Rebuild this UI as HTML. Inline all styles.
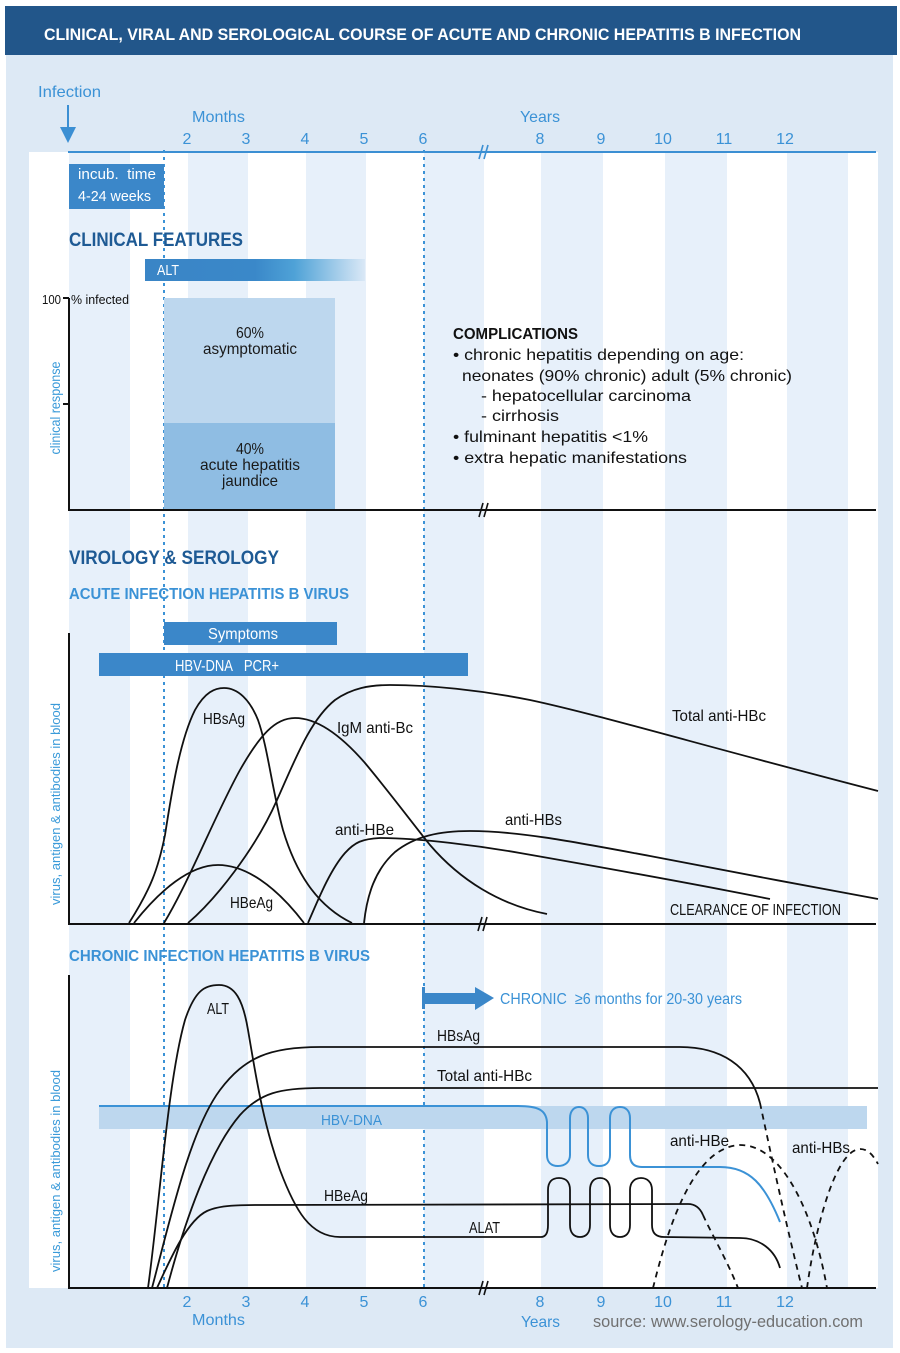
<!DOCTYPE html>
<html><head><meta charset="utf-8"><style>
html,body{margin:0;padding:0;background:#fff;}
svg{display:block;}
text{font-family:"Liberation Sans",sans-serif;}
</style></head><body>
<svg width="900" height="1353" viewBox="0 0 900 1353" xmlns="http://www.w3.org/2000/svg">
<defs>
<linearGradient id="altg" x1="0" x2="1" y1="0" y2="0">
<stop offset="0" stop-color="#3a85c6"/>
<stop offset="0.5" stop-color="#3a88c9"/>
<stop offset="0.68" stop-color="#4fa2d7"/>
<stop offset="1" stop-color="#dae8f6"/>
</linearGradient>
</defs>
<rect width="900" height="1353" fill="#fff"/>
<rect x="6" y="55" width="887" height="1293" fill="#dde9f5"/>
<rect x="5" y="6" width="892" height="49" fill="#22568a"/>
<text x="44" y="40" font-size="17" font-weight="bold" fill="#fff" textLength="757" lengthAdjust="spacingAndGlyphs">CLINICAL, VIRAL AND SEROLOGICAL COURSE OF ACUTE AND CHRONIC HEPATITIS B INFECTION</text>

<!-- chart white area + stripes -->
<rect x="29" y="152" width="849" height="1136" fill="#fff"/>
<g fill="#e7f0fa">
<rect x="69" y="152" width="61" height="1136"/>
<rect x="188" y="152" width="60" height="1136"/>
<rect x="306" y="152" width="60" height="1136"/>
<rect x="424" y="152" width="60" height="1136"/>
<rect x="541" y="152" width="62" height="1136"/>
<rect x="665" y="152" width="62" height="1136"/>
<rect x="787" y="152" width="61" height="1136"/>
</g>

<!-- top axis -->
<g fill="#3b92d6">
<text x="38" y="97" font-size="16" textLength="63" lengthAdjust="spacingAndGlyphs">Infection</text>
<text x="192" y="122" font-size="16" textLength="53" lengthAdjust="spacingAndGlyphs">Months</text>
<text x="520" y="122" font-size="16" textLength="40" lengthAdjust="spacingAndGlyphs">Years</text>
<g font-size="16" text-anchor="middle">
<text x="187" y="144">2</text><text x="246" y="144">3</text><text x="305" y="144">4</text><text x="364" y="144">5</text><text x="423" y="144">6</text>
<text x="540" y="144">8</text><text x="601" y="144">9</text><text x="663" y="144">10</text><text x="724" y="144">11</text><text x="785" y="144">12</text>
</g>
</g>
<line x1="68" y1="105" x2="68" y2="132" stroke="#3b8fd3" stroke-width="2"/>
<polygon points="60,127 76,127 68,143" fill="#3b8fd3"/>
<line x1="68" y1="152" x2="876" y2="152" stroke="#3b8fd3" stroke-width="2"/>
<g stroke="#3b8fd3" stroke-width="1.6"><line x1="479" y1="159" x2="483" y2="145"/><line x1="484" y1="159" x2="488" y2="145"/></g>

<!-- dashed verticals -->
<g stroke="#3b92d6" stroke-width="2" stroke-dasharray="3,4">
<line x1="164" y1="150" x2="164" y2="1288"/>
<line x1="424" y1="150" x2="424" y2="1288"/>
</g>

<!-- incubation -->
<rect x="69" y="164" width="95" height="45" fill="#3b87c9"/>
<text x="78" y="179" font-size="15" fill="#fff" textLength="78" lengthAdjust="spacingAndGlyphs">incub.&#160; time</text>
<text x="78" y="201" font-size="15" fill="#fff" textLength="73" lengthAdjust="spacingAndGlyphs">4-24 weeks</text>

<!-- clinical features -->
<text x="69" y="246" font-size="19" font-weight="bold" fill="#1e5a94" textLength="174" lengthAdjust="spacingAndGlyphs">CLINICAL FEATURES</text>
<rect x="145" y="259" width="220" height="22" fill="url(#altg)"/>
<text x="157" y="275" font-size="15" fill="#fff" textLength="22" lengthAdjust="spacingAndGlyphs">ALT</text>
<rect x="164" y="298" width="171" height="125" fill="#bdd7ee"/>
<rect x="164" y="423" width="171" height="87" fill="#8fbde3"/>
<g fill="#1a1a1a" font-size="16" text-anchor="middle">
<text x="250" y="338" textLength="28" lengthAdjust="spacingAndGlyphs">60%</text>
<text x="250" y="354" textLength="94" lengthAdjust="spacingAndGlyphs">asymptomatic</text>
<text x="250" y="454" textLength="28" lengthAdjust="spacingAndGlyphs">40%</text>
<text x="250" y="470" textLength="100" lengthAdjust="spacingAndGlyphs">acute hepatitis</text>
<text x="250" y="486" textLength="56" lengthAdjust="spacingAndGlyphs">jaundice</text>
</g>
<text x="42" y="304" font-size="13" fill="#111" textLength="19" lengthAdjust="spacingAndGlyphs">100</text>
<text x="71" y="304" font-size="13" fill="#111" textLength="58" lengthAdjust="spacingAndGlyphs">% infected</text>
<text transform="translate(60,408) rotate(-90)" font-size="14" fill="#3a9ad9" text-anchor="middle" textLength="93" lengthAdjust="spacingAndGlyphs">clinical response</text>
<g stroke="#111" stroke-width="2" fill="none">
<polyline points="69,298 69,510 876,510"/>
<line x1="63" y1="298" x2="69" y2="298"/>
<line x1="63" y1="404" x2="69" y2="404"/>
</g>
<g stroke="#111" stroke-width="1.6"><line x1="479" y1="517" x2="483" y2="503"/><line x1="484" y1="517" x2="488" y2="503"/></g>
<g fill="#111" font-size="16">
<text x="453" y="339" font-weight="bold" textLength="125" lengthAdjust="spacingAndGlyphs">COMPLICATIONS</text>
<text x="453" y="360" textLength="291" lengthAdjust="spacingAndGlyphs">• chronic hepatitis depending on age:</text>
<text x="462" y="381" textLength="330" lengthAdjust="spacingAndGlyphs">neonates (90% chronic) adult (5% chronic)</text>
<text x="481" y="401" textLength="210" lengthAdjust="spacingAndGlyphs">- hepatocellular carcinoma</text>
<text x="481" y="421" textLength="78" lengthAdjust="spacingAndGlyphs">- cirrhosis</text>
<text x="453" y="442" textLength="195" lengthAdjust="spacingAndGlyphs">• fulminant hepatitis &lt;1%</text>
<text x="453" y="463" textLength="234" lengthAdjust="spacingAndGlyphs">• extra hepatic manifestations</text>
</g>

<!-- virology acute -->
<text x="69" y="564" font-size="19" font-weight="bold" fill="#1e5a94" textLength="210" lengthAdjust="spacingAndGlyphs">VIROLOGY &amp; SEROLOGY</text>
<text x="69" y="599" font-size="16" font-weight="bold" fill="#3b92d6" textLength="280" lengthAdjust="spacingAndGlyphs">ACUTE INFECTION HEPATITIS B VIRUS</text>
<rect x="164" y="622" width="173" height="23" fill="#3b87c9"/>
<text x="243" y="639" font-size="16" fill="#fff" text-anchor="middle" textLength="70" lengthAdjust="spacingAndGlyphs">Symptoms</text>
<rect x="99" y="653" width="369" height="23" fill="#3b87c9"/>
<text x="175" y="671" font-size="16" fill="#fff" textLength="104" lengthAdjust="spacingAndGlyphs">HBV-DNA&#160;&#160; PCR+</text>
<text transform="translate(60,804) rotate(-90)" font-size="13" fill="#3a9ad9" text-anchor="middle" textLength="202" lengthAdjust="spacingAndGlyphs">virus, antigen &amp; antibodies in blood</text>
<g stroke="#111" stroke-width="2" fill="none">
<polyline points="69,633 69,924 876,924"/>
</g>
<g stroke="#111" stroke-width="1.6"><line x1="478" y1="931" x2="482" y2="917"/><line x1="483" y1="931" x2="487" y2="917"/></g>
<g stroke="#111" stroke-width="1.8" fill="none">
<path d="M129,923 C150,890 158,870 165,835 C172,790 180,740 195,710 C205,692 215,688 224,688 C238,688 250,700 258,720 C268,748 272,790 283,830 C295,870 315,905 352,923"/>
<path d="M134,923 C160,890 190,865 218,865 C245,865 275,885 304,923"/>
<path d="M164,923 C190,880 215,815 240,770 C260,735 275,718 295,718 C320,718 345,740 365,763 C390,793 410,820 430,845 C460,880 500,905 547,914"/>
<path d="M188,923 C215,900 255,850 277,800 C295,760 310,720 335,700 C352,688 370,685 390,685 C430,685 480,690 530,700 C600,715 700,745 878,791"/>
<path d="M308,923 C318,900 330,870 345,853 C355,842 362,839 380,838 C420,838 480,846 520,853 C600,867 700,885 770,899"/>
<path d="M364,923 C367,895 375,870 395,852 C415,836 440,831 470,831 C520,831 580,843 650,856 C730,871 800,885 878,899"/>
</g>
<g fill="#111" font-size="16">
<text x="203" y="724" textLength="42" lengthAdjust="spacingAndGlyphs">HBsAg</text>
<text x="230" y="908" textLength="43" lengthAdjust="spacingAndGlyphs">HBeAg</text>
<text x="337" y="733" textLength="76" lengthAdjust="spacingAndGlyphs">IgM anti-Bc</text>
<text x="672" y="721" textLength="94" lengthAdjust="spacingAndGlyphs">Total anti-HBc</text>
<text x="335" y="835" textLength="59" lengthAdjust="spacingAndGlyphs">anti-HBe</text>
<text x="505" y="825" textLength="57" lengthAdjust="spacingAndGlyphs">anti-HBs</text>
<text x="670" y="915" textLength="171" lengthAdjust="spacingAndGlyphs">CLEARANCE OF INFECTION</text>
</g>

<!-- chronic -->
<text x="69" y="961" font-size="16" font-weight="bold" fill="#3b92d6" textLength="301" lengthAdjust="spacingAndGlyphs">CHRONIC INFECTION HEPATITIS B VIRUS</text>
<rect x="422" y="987" width="3" height="22" fill="#3b87c9"/>
<rect x="424" y="993" width="52" height="11" fill="#3b87c9"/>
<polygon points="475,987 475,1010 494,998" fill="#3b87c9"/>
<text x="500" y="1004" font-size="16" fill="#3b92d6" textLength="242" lengthAdjust="spacingAndGlyphs">CHRONIC&#160; ≥6 months for 20-30 years</text>
<rect x="99" y="1106" width="768" height="23" fill="#bdd7ee"/>
<text x="321" y="1125" font-size="15" fill="#3b92d6" textLength="61" lengthAdjust="spacingAndGlyphs">HBV-DNA</text>
<text transform="translate(60,1171) rotate(-90)" font-size="13" fill="#3a9ad9" text-anchor="middle" textLength="202" lengthAdjust="spacingAndGlyphs">virus, antigen &amp; antibodies in blood</text>
<g stroke="#111" stroke-width="2" fill="none">
<polyline points="69,975 69,1288 876,1288"/>
</g>
<g stroke="#111" stroke-width="1.6"><line x1="479" y1="1295" x2="483" y2="1281"/><line x1="484" y1="1295" x2="488" y2="1281"/></g>
<path d="M99,1106 L518,1106 C538,1106 546,1110 547,1122 L547,1155 C547,1162 551,1166 558,1166 C565,1166 570,1162 570,1155 L570,1118 C570,1111 574,1107 579,1107 C584,1107 588,1111 588,1118 L588,1155 C588,1162 592,1166 599,1166 C606,1166 610,1162 610,1155 L610,1118 C610,1111 614,1107 620,1107 C626,1107 630,1111 630,1118 L630,1155 C630,1163 634,1167 642,1167 L720,1167 C750,1167 765,1185 780,1222" stroke="#3b92d6" stroke-width="2" fill="none"/>
<g stroke="#111" stroke-width="1.8" fill="none">
<path d="M148,1288 C160,1200 168,1080 185,1020 C195,990 205,985 219,985 C235,985 243,1000 248,1030 C255,1070 262,1120 280,1170 C295,1210 310,1237 340,1237 L541,1237 C546,1237 548,1232 548,1225 L548,1190 C548,1182 552,1178 559,1178 C566,1178 570,1182 570,1190 L570,1225 C570,1233 574,1237 580,1237 C586,1237 590,1233 590,1225 L590,1190 C590,1182 594,1178 600,1178 C606,1178 610,1182 610,1190 L610,1225 C610,1233 614,1237 620,1237 C626,1237 630,1233 630,1225 L630,1190 C630,1182 635,1178 641,1178 C647,1178 652,1182 652,1190 L652,1225 C652,1233 656,1237 664,1237 L740,1238 C760,1238 775,1250 780,1268"/>
<path d="M152,1288 C170,1220 190,1130 220,1090 C245,1057 270,1047 320,1047 L680,1047 C720,1047 750,1065 760,1103"/>
<path d="M167,1288 C185,1220 210,1150 240,1115 C260,1093 280,1088 320,1088 L878,1088"/>
<path d="M157,1288 C172,1255 188,1220 207,1211 C220,1205 240,1205 260,1205 L688,1204 C695,1204 700,1208 703,1215"/>
</g>
<g stroke="#111" stroke-width="1.8" fill="none" stroke-dasharray="6,5">
<path d="M760,1103 C770,1150 785,1220 802,1288"/>
<path d="M703,1215 C712,1235 727,1260 738,1288"/>
<path d="M653,1288 C665,1240 690,1147 740,1145 C785,1145 815,1220 827,1288"/>
<path d="M807,1288 C815,1230 835,1150 860,1149 C868,1149 873,1155 878,1164"/>
</g>
<g fill="#111" font-size="16">
<text x="207" y="1014" textLength="22" lengthAdjust="spacingAndGlyphs">ALT</text>
<text x="437" y="1041" textLength="43" lengthAdjust="spacingAndGlyphs">HBsAg</text>
<text x="437" y="1081" textLength="95" lengthAdjust="spacingAndGlyphs">Total anti-HBc</text>
<text x="670" y="1146" textLength="59" lengthAdjust="spacingAndGlyphs">anti-HBe</text>
<text x="792" y="1153" textLength="58" lengthAdjust="spacingAndGlyphs">anti-HBs</text>
<text x="324" y="1201" textLength="44" lengthAdjust="spacingAndGlyphs">HBeAg</text>
<text x="469" y="1233" textLength="31" lengthAdjust="spacingAndGlyphs">ALAT</text>
</g>

<!-- bottom axis -->
<g fill="#3b92d6">
<g font-size="16" text-anchor="middle">
<text x="187" y="1307">2</text><text x="246" y="1307">3</text><text x="305" y="1307">4</text><text x="364" y="1307">5</text><text x="423" y="1307">6</text>
<text x="540" y="1307">8</text><text x="601" y="1307">9</text><text x="663" y="1307">10</text><text x="724" y="1307">11</text><text x="785" y="1307">12</text>
</g>
<text x="192" y="1325" font-size="16" textLength="53" lengthAdjust="spacingAndGlyphs">Months</text>
<text x="521" y="1327" font-size="16" textLength="39" lengthAdjust="spacingAndGlyphs">Years</text>
</g>
<text x="593" y="1327" font-size="17" fill="#707070" textLength="270" lengthAdjust="spacingAndGlyphs">source: www.serology-education.com</text>
</svg>
</body></html>
